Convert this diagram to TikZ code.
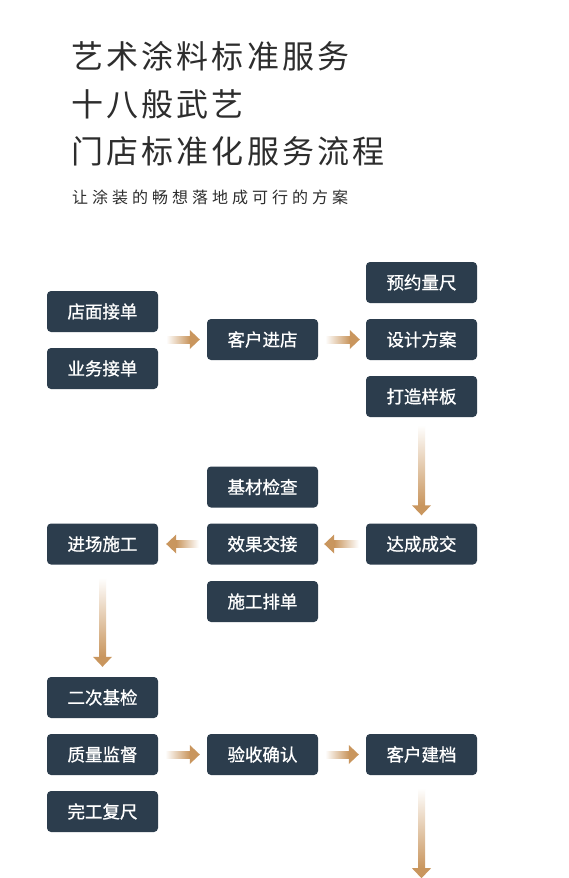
\documentclass[tikz,border=0pt]{standalone}
\usepackage{fontspec}
\setmainfont{Noto Sans CJK SC}
\newfontfamily\titlefont[LetterSpace=10]{Noto Sans CJK SC}
\newfontfamily\subfont[LetterSpace=25]{Noto Sans CJK SC}
\newfontfamily\boxfont[FakeBold=0.9]{Noto Sans CJK SC}
\usetikzlibrary{calc}
\definecolor{boxc}{RGB}{44,61,77}
\definecolor{arrc}{RGB}{201,150,94}
\definecolor{titc}{RGB}{45,45,45}
\newcommand\arrR[2]{%
  \shade[left color=white,right color=arrc] ($(#1)+(0,-3.5)$) rectangle ($(#2)+(-10,3.5)$);
  \fill[arrc] ($(#2)+(-10,-9.5)$) -- (#2) -- ($(#2)+(-10,9.5)$) -- cycle;}
\newcommand\arrL[2]{%
  \shade[left color=arrc,right color=white] ($(#2)+(10,-3.5)$) rectangle ($(#1)+(0,3.5)$);
  \fill[arrc] ($(#2)+(10,-9.5)$) -- (#2) -- ($(#2)+(10,9.5)$) -- cycle;}
\newcommand\arrD[2]{%
  \shade[top color=white,bottom color=arrc] ($(#1)+(-3.5,0)$) rectangle ($(#2)+(3.5,-10)$);
  \fill[arrc] ($(#2)+(-9.5,-10)$) -- (#2) -- ($(#2)+(9.5,-10)$) -- cycle;}
\begin{document}
\begin{tikzpicture}[x=1pt,y=-1pt,
  box/.style={fill=boxc,rounded corners=4pt,minimum width=111pt,minimum height=41pt,
    inner sep=0pt,text=white,font=\boxfont\fontsize{17.5}{18}\selectfont},
  ttl/.style={anchor=west,inner sep=0pt,text=titc,font=\titlefont\fontsize{32}{34}\selectfont},
  sub/.style={anchor=west,inner sep=0pt,text=titc,font=\subfont\fontsize{16}{18}\selectfont}]
\useasboundingbox[fill=white] (0,0) rectangle (569,878);
% titles
\node[ttl] (t1) at (71,56.7) {艺术涂料标准服务};
\node[ttl] (t2) at (71,104) {十八般武艺};
\node[ttl] (t3) at (71,151.7) {门店标准化服务流程};
\node[sub] (t4) at (72,197.5) {让涂装的畅想落地成可行的方案};
% boxes
\node[box] (yy) at (421.5,282.5) {预约量尺};
\node[box] (dm) at (102.5,311.5) {店面接单};
\node[box] (kh) at (262.5,339.5) {客户进店};
\node[box] (sj) at (421.5,339.5) {设计方案};
\node[box] (yw) at (102.5,368.5) {业务接单};
\node[box] (dz) at (421.5,396.5) {打造样板};
\node[box] (jcc) at (262.5,487) {基材检查};
\node[box] (jc) at (102.5,544) {进场施工};
\node[box] (xg) at (262.5,544) {效果交接};
\node[box] (dc) at (421.5,544) {达成成交};
\node[box] (sg) at (262.5,601.5) {施工排单};
\node[box] (ec) at (102.5,697.5) {二次基检};
\node[box] (zl) at (102.5,754.5) {质量监督};
\node[box] (ys) at (262.5,754.5) {验收确认};
\node[box] (kj) at (421.5,754.5) {客户建档};
\node[box] (wg) at (102.5,811.5) {完工复尺};
% arrows
\coordinate (a1t) at ($($(dm.east)!.5!(yw.east)$)+(8,0)$);
\coordinate (a1h) at ($(kh.west)+(-7,0)$);
\arrR{a1t}{a1h}
\coordinate (a2t) at ($(kh.east)+(7,0)$);
\coordinate (a2h) at ($(sj.west)+(-6,0)$);
\arrR{a2t}{a2h}
\coordinate (a3t) at ($(dz.south)+(0,8)$);
\coordinate (a3h) at ($(dc.north)+(0,-8)$);
\arrD{a3t}{a3h}
\coordinate (a4t) at ($(dc.west)+(-7,0)$);
\coordinate (a4h) at ($(xg.east)+(6,0)$);
\arrL{a4t}{a4h}
\coordinate (a5t) at ($(xg.west)+(-8,0)$);
\coordinate (a5h) at ($(jc.east)+(8,0)$);
\arrL{a5t}{a5h}
\coordinate (a6t) at ($(jc.south)+(0,13)$);
\coordinate (a6h) at ($(ec.north)+(0,-10)$);
\arrD{a6t}{a6h}
\coordinate (a8t) at ($(zl.east)+(7,0)$);
\coordinate (a8h) at ($(ys.west)+(-7,0)$);
\arrR{a8t}{a8h}
\coordinate (a9t) at ($(ys.east)+(7,0)$);
\coordinate (a9h) at ($(kj.west)+(-7,0)$);
\arrR{a9t}{a9h}
\coordinate (a7t) at ($(kj.south)+(0,13)$);
\coordinate (a7h) at ($(kj.south)+(0,103)$);
\arrD{a7t}{a7h}
\end{tikzpicture}
\end{document}
